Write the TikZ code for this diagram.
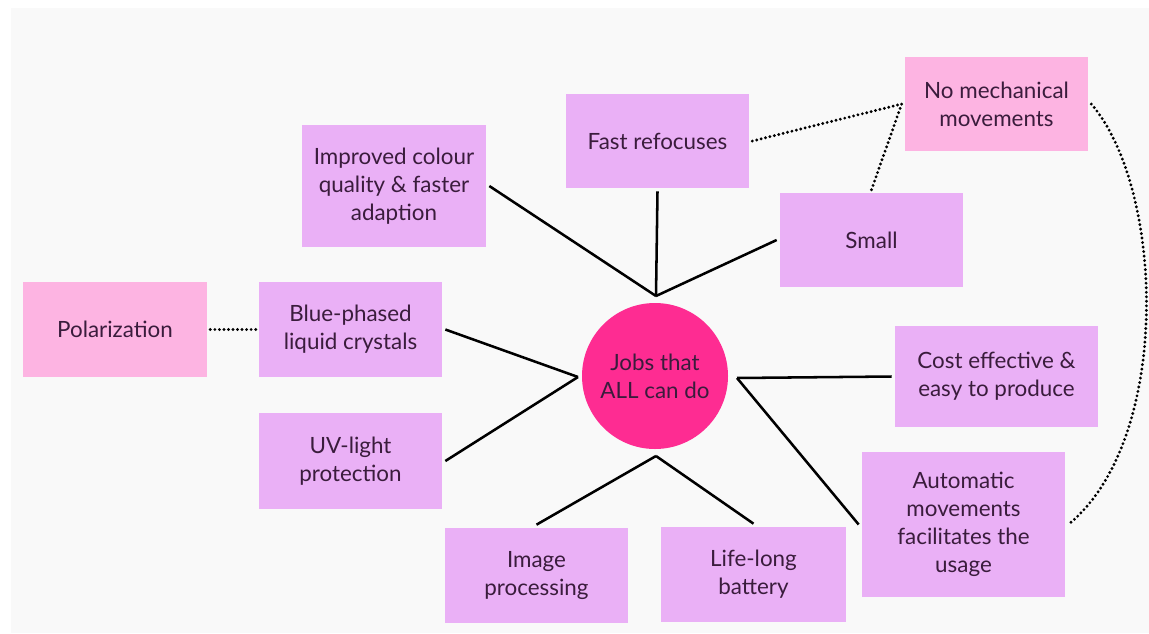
\documentclass[tikz,border=0pt]{standalone}
\usepackage{fontspec}
\setmainfont{Lato}
\definecolor{panel}{HTML}{F9F9F9}
\definecolor{lav}{HTML}{EAB0F6}
\definecolor{rosy}{HTML}{FDB4E2}
\definecolor{hub}{HTML}{FE2C92}
\definecolor{ink}{HTML}{3A1C3C}
\begin{document}
\begin{tikzpicture}[x=0.75pt,y=-0.75pt,
  label font/.style={font=\fontsize{16.8}{21}\selectfont},
  base/.style={rectangle, inner sep=0pt, outer sep=2.5pt, align=center,
    text=ink, label font},
  card/.style={base, fill=lav},
  note/.style={base, fill=rosy},
  link/.style={line width=1.9pt, black},
  dots/.style={line width=2.4pt, black, line cap=round, dash pattern=on 0pt off 3.4pt}]
  % canvas
  \useasboundingbox (0,0) rectangle (1149,633);
  \fill[white] (0,0) rectangle (1149,633);
  \fill[panel] (11,8) rectangle (1149,633);

  % central circle
  \node[circle, fill=hub, minimum size=109.5pt, inner sep=0pt, align=center,
    text=ink, label font] (jobs) at (655,376) {Jobs that\\ALL can do};
  \coordinate (hubT) at (656,296);
  \coordinate (hubL) at (578,377);
  \coordinate (hubR) at (737,378);
  \coordinate (hubB) at (656,456);

  % satellite boxes
  \node[card, minimum width=138pt, minimum height=91.5pt] (imp) at (394,186)
    {Improved colour\\quality \& faster\\adaption};
  \node[card, minimum width=137.25pt, minimum height=70.5pt] (fast) at (657.5,141) {Fast refocuses};
  \node[note, minimum width=137.25pt, minimum height=70.5pt] (nomech) at (996.5,104)
    {No mechanical\\movements};
  \node[card, minimum width=137.25pt, minimum height=70.5pt] (small) at (871.5,240) {Small};
  \node[note, minimum width=138pt, minimum height=71.25pt] (polar) at (115,329.5) {Polarization};
  \node[card, minimum width=137.25pt, minimum height=71.25pt] (blue) at (350.5,329.5)
    {Blue-phased\\liquid crystals};
  \node[card, minimum width=137.25pt, minimum height=72pt] (uv) at (350.5,461)
    {UV-light\\protection};
  \node[card, minimum width=152.25pt, minimum height=75.75pt] (cost) at (996.5,376.5)
    {Cost effective \&\\easy to produce};
  \node[card, minimum width=152.25pt, minimum height=108.75pt] (auto) at (963.5,524.5)
    {Automatic\\movements\\facilitates the\\usage};
  \node[card, minimum width=137.25pt, minimum height=71.25pt] (img) at (536.5,575.5)
    {Image\\processing};
  \node[card, minimum width=138.75pt, minimum height=71.25pt] (life) at (753.5,574.5)
    {Life-long\\battery};

  % solid spokes
  \draw[link] (imp.east) -- (hubT);
  \draw[link] (fast.south) -- (hubT);
  \draw[link] (small.west) -- (hubT);
  \draw[link] (blue.east) -- (hubL);
  \draw[link] (uv.east) -- (hubL);
  \draw[link] (cost.west) -- (hubR);
  \draw[link] (hubR) -- (auto.west);
  \draw[link] (img.north) -- (hubB);
  \draw[link] (life.north) -- (hubB);

  % dotted relations
  \draw[dots] (fast.east) -- (nomech.west);
  \draw[dots] (small.north) -- (nomech.west);
  \draw[dots] (polar.east) -- (blue.west);
  \draw[dots] (nomech.east) .. controls (1165,190) and (1172,440) .. (auto.east);
\end{tikzpicture}
\end{document}
